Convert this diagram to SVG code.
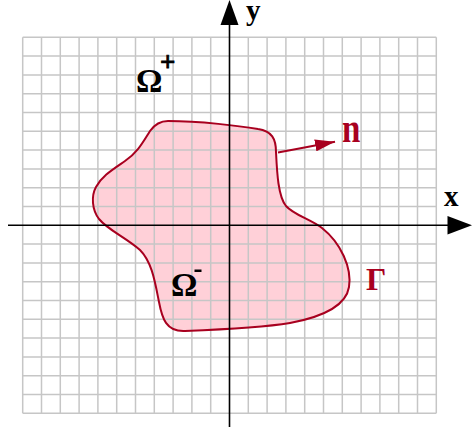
<svg xmlns="http://www.w3.org/2000/svg" width="472" height="432" viewBox="0 0 472 432">
<style>
.grid line{stroke:#c6c6c6;stroke-width:1.5}
.axis{stroke:#000;stroke-width:1.6;fill:none}
.lbl{font-family:"Liberation Serif","Times New Roman",serif;font-weight:bold}
.blk{fill:#000}
.red{fill:#a8001f}
</style>
<defs>
<marker id="nh" viewBox="0 0 20 12" refX="20" refY="6" markerWidth="20" markerHeight="12" markerUnits="userSpaceOnUse" orient="auto">
<path d="M0,0 L20,6 L0,12 Z" fill="#a8001f"/>
</marker>
</defs>
<rect width="472" height="432" fill="#fff"/>
<g id="region-fill">
<path d="M168,121 C200,121 240,126 258,129 C272,131 276,139 276,152 C277,172 278,196 286,206 C294,215 310,219 322,228 C341,243 352,268 349,287 C346,306 322,317 290,323 C260,328 210,330 185,331 C166,332 162,318 159,302 C155,282 152,262 140,250 C125,237 108,230 99,219 C92,210 91,196 96,187 C102,176 112,170 125,161 C138,152 143,142 150,131 C155,124 160,121 168,121 Z" fill="#ffd0d8"/>
</g>
<g id="grid" class="grid">
<line x1="22.7" y1="37.3" x2="22.7" y2="413.3"/>
<line x1="41.5" y1="37.3" x2="41.5" y2="413.3"/>
<line x1="60.3" y1="37.3" x2="60.3" y2="413.3"/>
<line x1="79.1" y1="37.3" x2="79.1" y2="413.3"/>
<line x1="97.9" y1="37.3" x2="97.9" y2="413.3"/>
<line x1="116.7" y1="37.3" x2="116.7" y2="413.3"/>
<line x1="135.5" y1="37.3" x2="135.5" y2="413.3"/>
<line x1="154.3" y1="37.3" x2="154.3" y2="413.3"/>
<line x1="173.1" y1="37.3" x2="173.1" y2="413.3"/>
<line x1="191.9" y1="37.3" x2="191.9" y2="413.3"/>
<line x1="210.7" y1="37.3" x2="210.7" y2="413.3"/>
<line x1="248.3" y1="37.3" x2="248.3" y2="413.3"/>
<line x1="267.1" y1="37.3" x2="267.1" y2="413.3"/>
<line x1="285.9" y1="37.3" x2="285.9" y2="413.3"/>
<line x1="304.7" y1="37.3" x2="304.7" y2="413.3"/>
<line x1="323.5" y1="37.3" x2="323.5" y2="413.3"/>
<line x1="342.3" y1="37.3" x2="342.3" y2="413.3"/>
<line x1="361.1" y1="37.3" x2="361.1" y2="413.3"/>
<line x1="379.9" y1="37.3" x2="379.9" y2="413.3"/>
<line x1="398.7" y1="37.3" x2="398.7" y2="413.3"/>
<line x1="417.5" y1="37.3" x2="417.5" y2="413.3"/>
<line x1="436.3" y1="37.3" x2="436.3" y2="413.3"/>
<line x1="22.7" y1="37.3" x2="436.3" y2="37.3"/>
<line x1="22.7" y1="56.1" x2="436.3" y2="56.1"/>
<line x1="22.7" y1="74.9" x2="436.3" y2="74.9"/>
<line x1="22.7" y1="93.7" x2="436.3" y2="93.7"/>
<line x1="22.7" y1="112.5" x2="436.3" y2="112.5"/>
<line x1="22.7" y1="131.3" x2="436.3" y2="131.3"/>
<line x1="22.7" y1="150.1" x2="436.3" y2="150.1"/>
<line x1="22.7" y1="168.9" x2="436.3" y2="168.9"/>
<line x1="22.7" y1="187.7" x2="436.3" y2="187.7"/>
<line x1="22.7" y1="206.5" x2="436.3" y2="206.5"/>
<line x1="22.7" y1="244.1" x2="436.3" y2="244.1"/>
<line x1="22.7" y1="262.9" x2="436.3" y2="262.9"/>
<line x1="22.7" y1="281.7" x2="436.3" y2="281.7"/>
<line x1="22.7" y1="300.5" x2="436.3" y2="300.5"/>
<line x1="22.7" y1="319.3" x2="436.3" y2="319.3"/>
<line x1="22.7" y1="338.1" x2="436.3" y2="338.1"/>
<line x1="22.7" y1="356.9" x2="436.3" y2="356.9"/>
<line x1="22.7" y1="375.7" x2="436.3" y2="375.7"/>
<line x1="22.7" y1="394.5" x2="436.3" y2="394.5"/>
<line x1="22.7" y1="413.3" x2="436.3" y2="413.3"/>
</g>
<g id="boundary">
<path d="M168,121 C200,121 240,126 258,129 C272,131 276,139 276,152 C277,172 278,196 286,206 C294,215 310,219 322,228 C341,243 352,268 349,287 C346,306 322,317 290,323 C260,328 210,330 185,331 C166,332 162,318 159,302 C155,282 152,262 140,250 C125,237 108,230 99,219 C92,210 91,196 96,187 C102,176 112,170 125,161 C138,152 143,142 150,131 C155,124 160,121 168,121 Z" fill="none" stroke="#a8001f" stroke-width="2"/>
</g>
<g id="axes">
<line class="axis" x1="229.5" y1="427" x2="229.5" y2="22"/>
<polygon points="229.5,0 220.5,25 238.5,25" fill="#000"/>
<line class="axis" x1="8" y1="225.3" x2="450" y2="225.3"/>
<polygon points="472,225.3 447.5,216 447.5,234.5" fill="#000"/>
</g>
<g id="connectors">
<line x1="278" y1="152.5" x2="335" y2="141.7" stroke="#a8001f" stroke-width="2" marker-end="url(#nh)"/>
</g>
<g id="labels">
<text class="lbl blk" x="246" y="20" font-size="29">y</text>
<text class="lbl blk" x="444" y="206" font-size="29">x</text>
<text class="lbl red" transform="translate(342,142) scale(1,1.25)" font-size="33">n</text>
<text class="lbl red" x="366" y="290" font-size="32">Γ</text>
<text class="lbl blk" x="136" y="92" font-size="33">Ω</text>
<text class="lbl blk" x="160" y="71" font-size="27" stroke="#000" stroke-width="0.8">+</text>
<text class="lbl blk" x="171" y="295.5" font-size="33">Ω</text>
<rect x="194.5" y="269.5" width="7" height="2.5" fill="#000"/>
</g>
</svg>
